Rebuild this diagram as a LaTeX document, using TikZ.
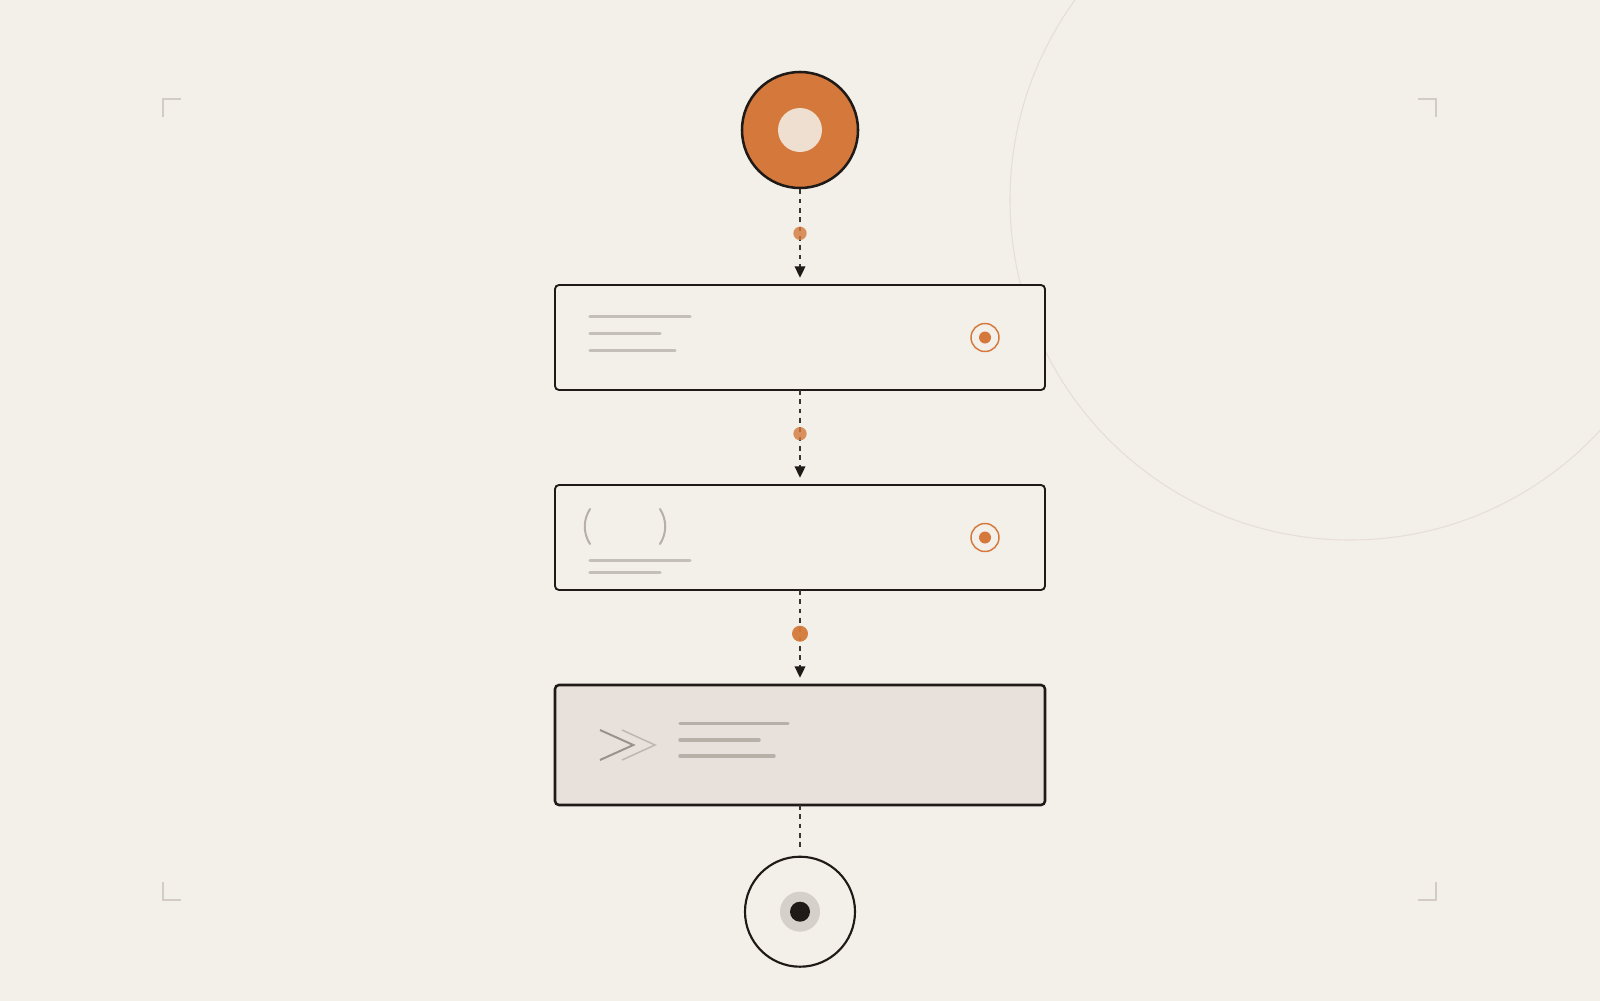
\documentclass[tikz,border=0pt]{standalone}
\usetikzlibrary{calc, arrows.meta}

\definecolor{paper}{HTML}{F3EFE9}
\definecolor{ink}{HTML}{1F1A17}
\definecolor{rust}{HTML}{D4793B}
\definecolor{rustpale}{HTML}{EEDFD0}
\definecolor{barlight}{HTML}{C4BFB8}
\definecolor{bardark}{HTML}{B6B0A9}
\definecolor{chevdark}{HTML}{9A938C}
\definecolor{chevlight}{HTML}{BDB7B0}
\definecolor{boxfill}{HTML}{E8E1DB}
\definecolor{markgray}{HTML}{D2CCC5}
\definecolor{ringgray}{HTML}{E6DFD7}
\definecolor{dashgray}{HTML}{3A3531}
\definecolor{holegray}{HTML}{D5D0CA}

\begin{document}
\begin{tikzpicture}[x=0.75pt, y=-0.75pt,
  stepbox/.style={draw=ink, line width=1.4pt, rounded corners=3pt, fill=paper,
    minimum width=367.5pt, minimum height=78.75pt, outer sep=0pt},
  link/.style={dashgray, line width=1.2pt, dash pattern=on 3.6pt off 3.4pt},
  flow/.style={link, -{Triangle[length=8.5pt, width=8pt, color=ink]}, shorten >=5.5pt},
  dot/.style={circle, fill=rust, fill opacity=0.8, inner sep=0pt, minimum size=10pt},
  bar/.style={barlight, line width=2.6pt, line cap=round},
  target/.style={circle, draw=rust, line width=1.1pt, inner sep=0pt, minimum size=21pt}
]
  % 背景与边界
  \useasboundingbox (0,0) rectangle (1600,1000);
  \fill[paper] (-10,-10) rectangle (1610,1010);
  \clip (0,0) rectangle (1600,1000);
  \draw[ringgray, line width=0.8pt] (1350,200) circle[radius=340];

  % 四角标记
  \draw[markgray, line width=1.1pt] (163,117) -- (163,99) -- (181,99);
  \draw[markgray, line width=1.1pt] (1418,99) -- (1436,99) -- (1436,117);
  \draw[markgray, line width=1.1pt] (163,882) -- (163,900) -- (181,900);
  \draw[markgray, line width=1.1pt] (1418,900) -- (1436,900) -- (1436,882);

  % 起点
  \node[circle, draw=ink, line width=1.9pt, fill=rust, minimum size=87pt] (start) at (800,130) {};
  \node[circle, fill=rustpale, inner sep=0pt, minimum size=33pt] at (start) {};

  % 三个步骤
  \node[stepbox] (box1) at (800,337.5) {};
  \node[stepbox] (box2) at (800,537.5) {};
  \node[stepbox, fill=boxfill, line width=1.9pt, minimum height=90pt] (box3) at (800,745) {};

  % 终点
  \node[circle, draw=ink, line width=1.6pt, fill=paper, minimum size=82.5pt] (finish) at (800,911.7) {};
  \node[circle, fill=holegray, inner sep=0pt, minimum size=30pt] at (finish) {};
  \node[circle, fill=ink, inner sep=0pt, minimum size=15pt] at (finish) {};

  % 步骤一
  \draw[bar] ([shift={(35,31.7)}]box1.north west) -- ++(100,0);
  \draw[bar] ([shift={(35,48.7)}]box1.north west) -- ++(70,0);
  \draw[bar] ([shift={(35,65.7)}]box1.north west) -- ++(85,0);
  \node[target] (pick1) at ([xshift=-45pt]box1.east) {};
  \node[circle, fill=rust, inner sep=0pt, minimum size=9pt] at (pick1) {};

  % 步骤二
  \begin{scope}[shift={(box2.north west)}]
    \draw[bardark, line width=1.5pt, line cap=round] (35,24) .. controls (28,35) and (28,48) .. (35,59);
    \draw[bardark, line width=1.5pt, line cap=round] (105,24) .. controls (112,35) and (112,48) .. (105,59);
    \draw[bar] (35,75.7) -- ++(100,0);
    \draw[bar] (35,87.7) -- ++(70,0);
  \end{scope}
  \node[target] (pick2) at ([xshift=-45pt]box2.east) {};
  \node[circle, fill=rust, inner sep=0pt, minimum size=9pt] at (pick2) {};

  % 步骤三
  \begin{scope}[shift={(box3.north west)}]
    \draw[chevdark, line width=1.5pt] (45,45) -- (78.3,60) -- (45,75);
    \draw[chevlight, line width=1.1pt] (67,45) -- (100,60) -- (67,75);
    \draw[bar, bardark] (125,38.3) -- ++(108,0);
    \draw[bar, bardark] (125,55) -- ++(79,0);
    \draw[bar, bardark] (125,71) -- ++(94,0);
  \end{scope}

  % 连线
  \draw[flow] (start.south) -- (box1.north) node[pos=0.46, dot] {};
  \draw[flow] (box1.south) -- (box2.north) node[pos=0.46, dot] {};
  \draw[flow] (box2.south) -- (box3.north) node[pos=0.46, dot, fill opacity=0.95, minimum size=12pt] {};
  \draw[link, shorten >=6.5pt] (box3.south) -- (finish.north);
\end{tikzpicture}
\end{document}
